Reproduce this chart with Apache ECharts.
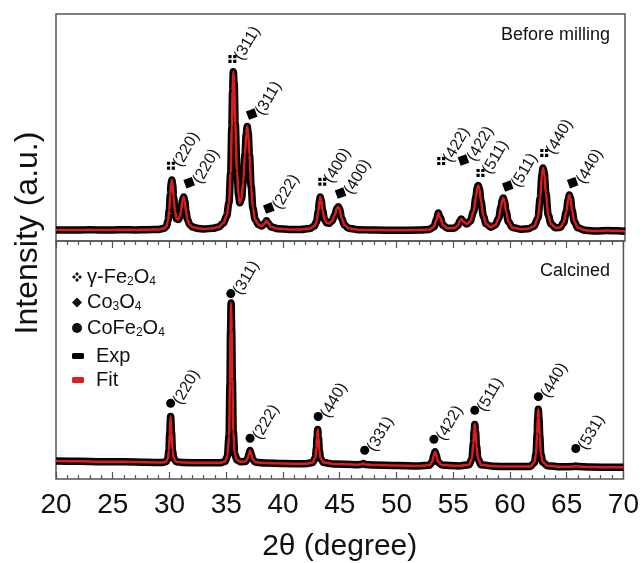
<!DOCTYPE html>
<html>
<head>
<meta charset="utf-8">
<script src="https://cdn.jsdelivr.net/npm/echarts@6/dist/echarts.min.js"></script>
<style>html,body{margin:0;padding:0;background:#fff}#c{width:642px;height:563px}</style>
</head>
<body>
<div id="c"></div>
<script>
// ---- data ----
// Top panel (Before milling)
const topX = [20,21,22,23,24,25,26,27,28,29,29.5,29.7,29.85,29.95,30.05,30.12,30.18,30.25,30.33,30.45,30.6,30.75,30.9,31.0,31.1,31.22,31.32,31.42,31.55,31.75,32.0,32.5,33.0,33.8,34.3,34.7,35.0,35.2,35.35,35.45,35.52,35.58,35.65,35.75,35.9,36.05,36.15,36.3,36.45,36.6,36.72,36.8,36.88,37.0,37.15,37.3,37.5,37.8,38.1,38.35,38.5,38.65,38.9,39.5,40.5,41.5,42.3,42.7,42.9,43.05,43.15,43.22,43.3,43.42,43.6,43.8,44.0,44.25,44.5,44.68,44.8,44.92,45.1,45.35,45.7,46.5,48,50,52,52.8,53.2,53.45,53.6,53.75,54.0,54.4,55.0,55.3,55.5,55.62,55.8,56.1,56.4,56.7,56.9,57.02,57.1,57.2,57.35,57.55,57.8,58.2,58.6,58.9,59.1,59.22,59.3,59.4,59.55,59.75,60.1,60.8,61.5,62.0,62.35,62.55,62.7,62.8,62.9,63.05,63.25,63.5,63.9,64.3,64.6,64.85,65.0,65.1,65.2,65.35,65.55,65.85,66.5,67.5,68.5,69.3,70];
const topY = [4.8,4.9,4.8,5.0,4.8,4.9,5.0,4.9,5.0,5.1,5.6,6.5,9.0,13.5,20.5,25.5,26.9,25.0,19.5,13.0,9.8,9.5,11.0,13.5,17.5,19.4,17.5,13.0,9.5,7.2,6.2,5.5,5.3,5.6,6.2,7.8,11.0,17.0,30.0,50.0,66.0,74.6,70.0,52.0,31.0,20.0,16.8,18.5,26.0,38.0,47.0,50.4,48.0,38.0,24.0,14.5,9.5,7.2,6.6,7.8,8.9,7.8,6.2,5.4,5.1,5.1,5.5,6.6,8.6,13.0,17.5,19.4,18.0,13.5,9.5,8.0,7.8,8.8,11.5,14.3,15.1,14.0,10.0,7.0,5.6,5.0,4.8,4.7,4.8,5.1,6.2,9.5,12.3,10.3,7.0,5.6,5.6,6.8,8.8,9.7,8.6,7.5,8.8,13.0,19.5,23.5,24.4,23.0,17.5,11.0,7.5,6.1,7.0,10.0,15.0,18.0,18.9,17.5,13.0,8.5,6.0,5.2,5.4,6.5,10.0,19.0,29.0,32.2,30.0,21.0,11.5,7.5,5.8,6.0,8.0,13.0,18.0,20.3,19.0,13.5,8.5,5.8,4.7,4.4,4.6,4.5,4.3];
// Bottom panel (Calcined)
const botX = [20,22,24,26,28,29.4,29.7,29.85,29.95,30.02,30.1,30.18,30.26,30.38,30.6,31.2,33,34.5,34.9,35.1,35.25,35.33,35.38,35.43,35.48,35.54,35.62,35.75,35.95,36.3,36.7,36.9,37.0,37.1,37.2,37.32,37.6,38.5,40,42,42.6,42.85,42.95,43.0,43.06,43.13,43.2,43.32,43.6,44.5,46.5,46.95,47.1,47.25,48,50,52,52.9,53.15,53.3,53.4,53.5,53.65,54.0,55.5,56.4,56.65,56.78,56.85,56.9,56.97,57.05,57.18,57.45,58.5,60,61.8,62.15,62.3,62.4,62.45,62.5,62.56,62.63,62.72,62.9,63.3,64.5,65.6,65.8,66.0,67,70];
const botY = [7.6,7.5,7.3,7.2,7.0,6.9,7.3,8.5,12.0,19.0,26.25,19.5,12.0,8.6,7.3,6.9,6.8,6.8,7.4,9.5,18.0,40.0,62.0,74.0,63.0,42.0,20.0,10.5,8.0,7.2,7.4,8.6,10.5,12.0,10.5,8.3,7.0,6.7,6.5,6.4,6.9,8.8,13.0,17.5,20.8,17.5,12.0,8.5,6.9,6.3,6.0,6.2,6.5,6.1,5.9,5.7,5.5,5.8,7.2,10.0,11.5,10.0,7.2,5.9,5.5,6.0,8.5,15.0,20.5,22.9,20.0,14.0,8.5,6.0,5.4,5.2,5.3,6.8,10.5,19.0,25.5,29.3,25.5,18.0,10.5,7.0,5.6,5.1,5.2,5.5,5.2,5.0,4.9];
// Peak markers
const feX = [30.1,35.5,43.4,53.85,57.3,62.9];
const feY = [33.2,80.2,26.1,35.2,30.0,38.8];
const feLab = ['(220)','(311)','(400)','(422)','(511)','(440)'];
const coX = [31.7,37.2,38.7,45.0,55.8,59.7,65.4];
const coY = [25.7,55.9,14.5,21.1,35.7,24.2,25.7];
const coLab = ['(220)','(311)','(222)','(400)','(422)','(511)','(440)'];
const cfX = [30.1,35.4,37.1,43.1,47.2,53.3,56.9,62.5,65.8];
const cfY = [31.8,77.9,17.1,26.25,12.1,16.7,28.9,34.6,12.8];
const cfLab = ['(220)','(311)','(222)','(440)','(331)','(422)','(511)','(440)','(531)'];
const xTicks = [20,25,30,35,40,45,50,55,60,65,70];

const FONT = 'Liberation Sans, Arial, sans-serif';
const zip = (a,b) => a.map((v,i)=>[v,b[i]]);
const feSym = 'path://M0,0h4v4h-4z M6,0h4v4h-4z M0,6h4v4h-4z M6,6h4v4h-4z';
const feIcon = 'path://M5,0L7,2L5,4L3,2Z M2,3L4,5L2,7L0,5Z M8,3L10,5L8,7L6,5Z M5,6L7,8L5,10L3,8Z';
const diamondIcon = 'path://M5,0L10,5L5,10L0,5Z';
const RED = '#dd1c1c';
const AX = '#555';

const labelCfg = (labs) => ({
  show: true, position: 'right', rotate: 60, distance: 2,
  fontSize: 16, color: '#111', fontFamily: FONT,
  formatter: p => labs[p.dataIndex]
});

const rich = {
  n: {fontSize: 20, fontFamily: FONT, color: '#111', lineHeight: 21},
  s: {fontSize: 12, fontFamily: FONT, color: '#111', lineHeight: 8, verticalAlign: 'bottom'}
};
const legendText = {
  'γ-Fe2O4': '{n|γ-Fe}{s|2}{n|O}{s|4}',
  'Co3O4': '{n|Co}{s|3}{n|O}{s|4}',
  'CoFe2O4': '{n|CoFe}{s|2}{n|O}{s|4}',
  'Exp': '{n|Exp}', 'Fit': '{n|Fit}'
};

const xCommon = {type: 'value', min: xTicks[0], max: xTicks[xTicks.length-1], interval: 5,
  splitLine: {show: false}, axisLine: {show: false}};

const chart = echarts.init(document.getElementById('c'), null, {renderer: 'canvas'});
chart.setOption({
  animation: false,
  backgroundColor: '#fff',
  grid: [
    {left: 56, right: 17, top: 14, height: 227, show: true, borderColor: AX, borderWidth: 1.5, backgroundColor: 'transparent'},
    {left: 56, right: 17, top: 241, height: 240, show: true, borderColor: AX, borderWidth: 1.5, backgroundColor: 'transparent'}
  ],
  xAxis: [
    Object.assign({}, xCommon, {gridIndex: 0, axisTick: {show: false}, axisLabel: {show: false}}),
    Object.assign({}, xCommon, {gridIndex: 1, position: 'bottom',
      axisTick: {show: true, inside: true, length: 7, lineStyle: {color: AX, width: 1.2}},
      minorTick: {show: true, splitNumber: 5, length: 4, lineStyle: {color: AX, width: 1.2}},
      axisLabel: {fontSize: 28, color: '#111', margin: 12, fontFamily: FONT},
      name: '2θ (degree)', nameLocation: 'middle', nameGap: 53,
      nameTextStyle: {fontSize: 30, color: '#111', fontFamily: FONT}}),
    Object.assign({}, xCommon, {gridIndex: 1, position: 'top',
      axisTick: {show: true, inside: true, length: 7, lineStyle: {color: AX, width: 1.2}},
      minorTick: {show: true, splitNumber: 5, length: 4, lineStyle: {color: AX, width: 1.2}},
      axisLabel: {show: false}})
  ],
  yAxis: [
    {type: 'value', gridIndex: 0, min: 0, max: 100, show: false},
    {type: 'value', gridIndex: 1, min: 0, max: 100, show: false}
  ],
  legend: [
    {orient: 'vertical', left: 67, top: 262, itemWidth: 10, itemHeight: 10, itemGap: 5,
     selectedMode: false, symbolKeepAspect: true,
     formatter: n => legendText[n], textStyle: {rich: rich},
     data: [
       {name: 'γ-Fe2O4', icon: feIcon, itemStyle: {color: '#111', borderWidth: 0}},
       {name: 'Co3O4', icon: diamondIcon, itemStyle: {color: '#111', borderWidth: 0}},
       {name: 'CoFe2O4', icon: 'circle', itemStyle: {color: '#111', borderWidth: 0}}
     ]},
    {orient: 'vertical', left: 67, top: 341, itemWidth: 12, itemHeight: 6, itemGap: 4,
     selectedMode: false,
     formatter: n => legendText[n], textStyle: {rich: rich, padding: [0,0,0,7]},
     data: [
       {name: 'Exp', icon: 'roundRect', itemStyle: {color: '#000', borderWidth: 0}},
       {name: 'Fit', icon: 'roundRect', itemStyle: {color: RED, borderWidth: 0}}
     ]}
  ],
  graphic: [
    {type: 'text', x: 28, y: 233, rotation: Math.PI/2,
     style: {text: 'Intensity (a.u.)', fontSize: 32, fontFamily: FONT, fill: '#111', textAlign: 'center', textVerticalAlign: 'middle'}},
    {type: 'text', x: 610, y: 35,
     style: {text: 'Before milling', fontSize: 18, fontFamily: FONT, fill: '#111', textAlign: 'right', textVerticalAlign: 'middle'}},
    {type: 'text', x: 610, y: 271,
     style: {text: 'Calcined', fontSize: 18, fontFamily: FONT, fill: '#111', textAlign: 'right', textVerticalAlign: 'middle'}}
  ],
  series: [
    {name: 'Exp', type: 'line', xAxisIndex: 0, yAxisIndex: 0, data: zip(topX, topY), showSymbol: false,
     smooth: 0.35, smoothMonotone: 'x', lineStyle: {color: '#000', width: 7.5}, itemStyle: {color: '#000'}, z: 2},
    {name: 'Fit', type: 'line', xAxisIndex: 0, yAxisIndex: 0, data: zip(topX, topY), showSymbol: false,
     smooth: 0.35, smoothMonotone: 'x', lineStyle: {color: RED, width: 2.5}, itemStyle: {color: RED}, z: 3},
    {name: 'Exp', type: 'line', xAxisIndex: 1, yAxisIndex: 1, data: zip(botX, botY), showSymbol: false,
     smooth: 0.35, smoothMonotone: 'x', lineStyle: {color: '#000', width: 7.5}, itemStyle: {color: '#000'}, z: 2},
    {name: 'Fit', type: 'line', xAxisIndex: 1, yAxisIndex: 1, data: zip(botX, botY), showSymbol: false,
     smooth: 0.35, smoothMonotone: 'x', lineStyle: {color: RED, width: 2.5}, itemStyle: {color: RED}, z: 3},
    {name: 'γ-Fe2O4', type: 'scatter', xAxisIndex: 0, yAxisIndex: 0, data: zip(feX, feY),
     symbol: feSym, symbolSize: 8, itemStyle: {color: '#000', opacity: 1}, label: labelCfg(feLab), z: 4},
    {name: 'Co3O4', type: 'scatter', xAxisIndex: 0, yAxisIndex: 0, data: zip(coX, coY),
     symbol: 'rect', symbolSize: 9, symbolRotate: 20, itemStyle: {color: '#000', opacity: 1}, label: labelCfg(coLab), z: 4},
    {name: 'CoFe2O4', type: 'scatter', xAxisIndex: 1, yAxisIndex: 1, data: zip(cfX, cfY),
     symbol: 'circle', symbolSize: 9, itemStyle: {color: '#000', opacity: 1}, label: labelCfg(cfLab), z: 4}
  ]
});
</script>
</body>
</html>
